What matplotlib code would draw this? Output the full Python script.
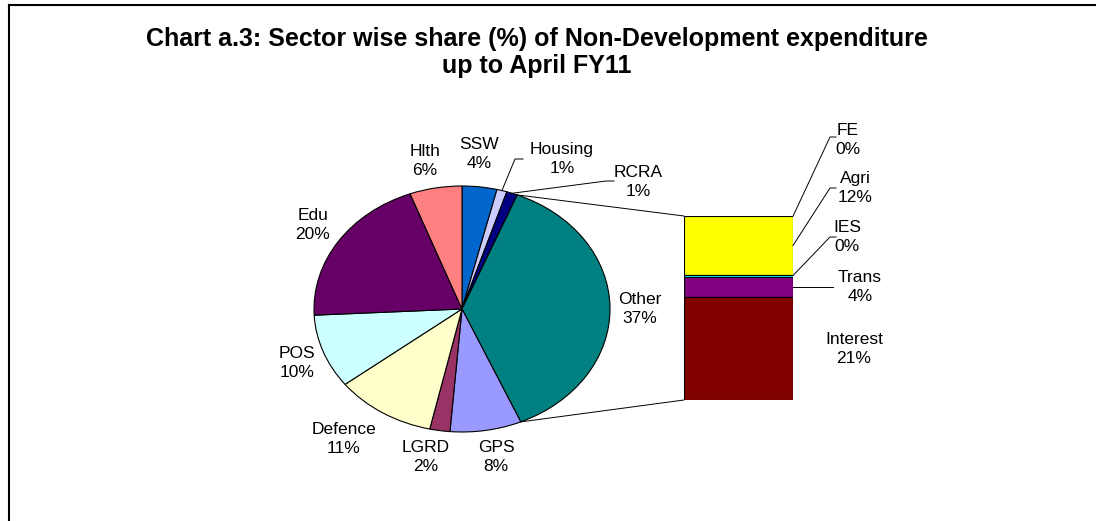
import numpy as np
import matplotlib
matplotlib.use("Agg")
import matplotlib.pyplot as plt

plt.rcParams['font.family'] = ['Liberation Sans', 'DejaVu Sans']

# pie data (clockwise from 12 o'clock)
pie_labels = ['SSW', 'Housing', 'RCRA', 'Other', 'GPS', 'LGRD', 'Defence', 'POS', 'Edu', 'Hlth']
pie_values = [3.8, 1.1, 1.2, 37.4, 7.8, 2.2, 11.0, 9.7, 20.1, 5.7]
pie_colors = ['#0066CC', '#CCCCFF', '#000080', '#008080', '#9999FF', '#993366',
              '#FFFFCC', '#CCFFFF', '#660066', '#FF8080']

# breakdown of "Other" (top to bottom)
bar_labels = ['FE', 'Agri', 'IES', 'Trans', 'Interest']
bar_values = [0.1, 11.8, 0.4, 4.1, 21.0]
bar_colors = ['#FF9900', '#FFFF00', '#00FFFF', '#800080', '#800000']

W, H = 1096, 521
fig = plt.figure(figsize=(W / 100, H / 100), dpi=100)

# overlay axes in pixel coords
ov = fig.add_axes([0, 0, 1, 1], zorder=3)
ov.set_xlim(0, W)
ov.set_ylim(H, 0)
ov.axis('off')
ov.patch.set_alpha(0)

# border (top + left only)
ov.plot([9, W], [5, 5], color='black', lw=1.5)
ov.plot([9, 9], [5, H], color='black', lw=1.5)

ov.text(537, 39, 'Chart a.3: Sector wise share (%) of Non-Development expenditure',
        ha='center', va='center', fontsize=18, fontweight='bold')
ov.text(537, 66, 'up to April FY11', ha='center', va='center', fontsize=18, fontweight='bold')

# pie geometry (pixels)
cx, cy, rx, ry = 462, 309, 148, 123
pax = fig.add_axes([(cx - rx) / W, (H - cy - ry) / H, 2 * rx / W, 2 * ry / H], zorder=1)
pax.pie(pie_values, colors=pie_colors, startangle=90, counterclock=False, radius=1,
        wedgeprops=dict(edgecolor='black', linewidth=0.8))
pax.set_aspect('auto')
pax.set_xlim(-1, 1)
pax.set_ylim(-1, 1)


def edge_pt(frac):
    # point on pie edge at cumulative fraction (clockwise from top)
    a = np.pi / 2 - 2 * np.pi * frac
    return cx + rx * np.cos(a), cy - ry * np.sin(a)


total = sum(pie_values)
cum = np.cumsum([0] + pie_values) / total

# bar geometry (pixels)
bx0, bx1, by0, by1 = 684, 793, 216, 400
bax = fig.add_axes([bx0 / W, (H - by1) / H, (bx1 - bx0) / W, (by1 - by0) / H], zorder=1)
other_total = sum(bar_values)
bottom = other_total
for v, c in zip(bar_values, bar_colors):
    bottom -= v
    bax.bar(0, v, bottom=bottom, width=1, color=c, edgecolor='black', linewidth=0.8)
bax.set_xlim(-0.5, 0.5)
bax.set_ylim(0, other_total)
bax.axis('off')

# connector lines pie -> bar
i_other = pie_labels.index('Other')
x0, y0 = edge_pt(cum[i_other])
x1, y1 = edge_pt(cum[i_other + 1])
ov.plot([x0, bx0], [y0, by0], color='black', lw=0.7)
ov.plot([x1, bx0], [y1, by1], color='black', lw=0.7)

fs = 12.5
ls = 1.4

pie_text_pos = {
    'SSW': (479, 154), 'Housing': (562, 159), 'RCRA': (638, 182), 'Other': (640, 309),
    'GPS': (496, 457), 'LGRD': (426, 457), 'Defence': (344, 439), 'POS': (297, 363),
    'Edu': (313, 225), 'Hlth': (425, 161),
}
for name, v in zip(pie_labels, pie_values):
    tx, ty = pie_text_pos[name]
    ov.text(tx, ty, f'{name}\n{round(v):.0f}%', ha='center', va='center',
            fontsize=fs, linespacing=ls)

# leader lines for small slices
i_h = pie_labels.index('Housing')
hx, hy = edge_pt((cum[i_h] + cum[i_h + 1]) / 2)
ov.plot([hx, 515, 523], [hy, 159, 159], color='black', lw=0.7)
i_r = pie_labels.index('RCRA')
rx_, ry_ = edge_pt((cum[i_r] + cum[i_r + 1]) / 2)
ov.plot([rx_, 606, 614], [ry_, 181, 181], color='black', lw=0.7)

bar_text_pos = {
    'FE': (848, 140), 'Agri': (855, 188), 'IES': (847, 237),
    'Trans': (860, 287), 'Interest': (854, 349),
}
leader_y = {'FE': 137, 'Agri': 188, 'IES': 237, 'Trans': 287}
top = 0
for name, v in zip(bar_labels, bar_values):
    mid = top + v / 2
    top += v
    py = by0 + mid / other_total * (by1 - by0)
    tx, ty = bar_text_pos[name]
    ov.text(tx, ty, f'{name}\n{round(v):.0f}%', ha='center', va='center',
            fontsize=fs, linespacing=ls)
    if name in leader_y:
        ly = leader_y[name]
        if name == 'Trans':
            ov.plot([bx1, 833], [py, py], color='black', lw=0.7)
        else:
            ov.plot([bx1, 830, 836], [py, ly, ly], color='black', lw=0.7)

fig.savefig('out.png', dpi=100)
